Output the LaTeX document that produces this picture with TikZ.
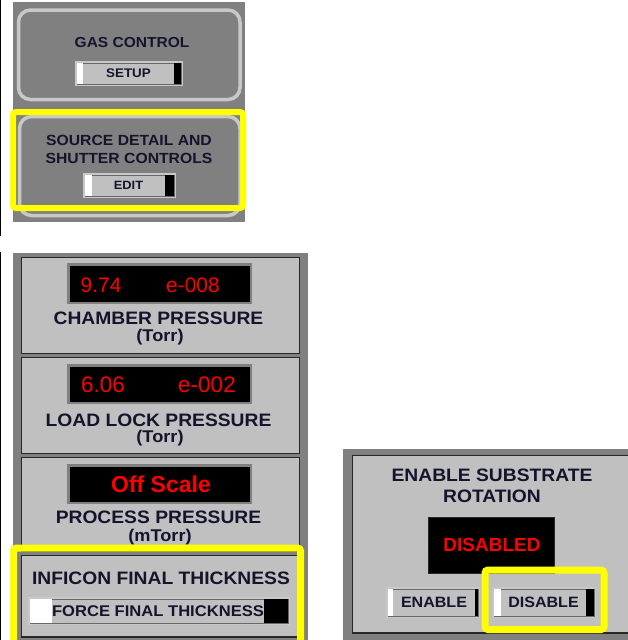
\documentclass[tikz,border=0pt]{standalone}
\usepackage{fontspec}
\setmainfont{Liberation Sans}
\newfontfamily\guifont{Liberation Sans}[FakeStretch=1.07]
\usepackage{xcolor}
\usepackage{tikz}
\usetikzlibrary{positioning}
\definecolor{GUIDark}{RGB}{128, 128, 128}
\definecolor{GUILight}{RGB}{192, 192, 192}
\definecolor{GUIRim}{RGB}{200, 200, 200}
\definecolor{GUIEdge}{RGB}{40, 40, 40}
\definecolor{GUIYellow}{RGB}{255, 255, 0}
\definecolor{GUIRed}{RGB}{255, 0, 0}
\definecolor{GUIText}{RGB}{20, 20, 45}

\tikzset{
  guitext/.style={text=GUIText, inner sep=0pt, align=center},
  readout/.style={text=GUIRed, inner sep=0pt},
  hilite/.style={draw=GUIYellow, rounded corners=3pt},
  panelbox/.style={draw=GUIEdge, fill=GUILight, line width=1pt}
}

% name, x1, y1, x2, y2, white width, black width, font size, text
\newcommand{\guibutton}[9]{%
  \fill[GUIRim] (#2,#3) rectangle (#4,#5);
  \filldraw[fill=GUILight, draw=GUIEdge!70, line width=0.6pt] (#2+2,#3+2) rectangle (#4-2,#5-2);
  \fill[white] (#2+2.3,#3+2.3) rectangle (#2+2+#6,#5-2.3);
  \fill[black] (#4-2-#7,#3+2.3) rectangle (#4-2.3,#5-2.3);
  \node[guitext, font=\guifont\bfseries\fontsize{#8}{#8}\selectfont] (#1)
    at ({(#2+#4+#6-#7)/2},{(#3+#5)/2}) {#9};
}

\begin{document}
\begin{tikzpicture}[x=1pt, y=-1pt]
  \useasboundingbox (0,0) rectangle (628,640);
  \clip (0,0) rectangle (628,640);
  \fill[white] (0,0) rectangle (628,640);
  \draw[black, line width=1pt] (0.5,0) -- (0.5,236);
  \draw[black, line width=1pt] (0.5,252) -- (0.5,640);

  % gas control and source detail
  \fill[GUIDark] (13,2) rectangle (245,222);
  \draw[GUIRim, line width=3.5pt, rounded corners=12pt] (18.5,10) rectangle (240,99.5);
  \draw[GUIRim, line width=3.5pt, rounded corners=12pt] (19.5,116.5) rectangle (240,215.5);
  \node[guitext, font=\guifont\bfseries\fontsize{14.5}{15}\selectfont] (gasTitle) at (132,43) {GAS CONTROL};
  \guibutton{setupBtn}{75}{61}{183}{86}{6}{7}{12.5}{SETUP}
  \node[guitext, font=\guifont\bfseries\fontsize{14.7}{18}\selectfont] (sourceTitle) at (129,149)
    {SOURCE DETAIL AND\\SHUTTER CONTROLS};
  \guibutton{editBtn}{83}{173}{176}{198}{7}{9}{12}{EDIT}
  \draw[hilite, line width=6pt] (13,112) rectangle (243,208);

  % pressure readouts
  \fill[GUIDark] (13,253) rectangle (308,640);
  \draw[panelbox] (21.5,257.5) rectangle (299.5,353);
  \draw[panelbox] (21.5,357.5) rectangle (299.5,453);
  \draw[panelbox] (21.5,457.5) rectangle (299.5,551);
  \draw[panelbox, line width=1.5pt] (21.5,555.5) rectangle (299.5,637);

  \fill[GUIDark] (67,263) rectangle (252,304);
  \fill[black] (69.5,265.5) rectangle (249.5,301.5);
  \node[readout, font=\fontsize{21}{21}\selectfont] (chamberVal) at (101,285) {9.74};
  \node[readout, font=\fontsize{21}{21}\selectfont] (chamberExp) at (193,285) {e-008};
  \node[guitext, font=\guifont\bfseries\fontsize{18}{18}\selectfont] (chamberTitle) at (158.5,318) {CHAMBER PRESSURE};
  \node[guitext, font=\guifont\bfseries\fontsize{17}{17}\selectfont] (chamberUnit) at (160,337) {(Torr)};

  \fill[GUIDark] (67,364) rectangle (252,404);
  \fill[black] (69.5,366.5) rectangle (249.5,401.5);
  \node[readout, font=\fontsize{22.5}{22.5}\selectfont] (loadVal) at (103,385) {6.06};
  \node[readout, font=\fontsize{22.5}{22.5}\selectfont] (loadExp) at (207,385) {e-002};
  \node[guitext, font=\guifont\bfseries\fontsize{18}{18}\selectfont] (loadTitle) at (158.5,420) {LOAD LOCK PRESSURE};
  \node[guitext, font=\guifont\bfseries\fontsize{17}{17}\selectfont] (loadUnit) at (160,438.5) {(Torr)};

  \fill[GUIDark] (67,464) rectangle (252,504);
  \fill[black] (69.5,466.5) rectangle (249.5,501.5);
  \node[readout, font=\bfseries\fontsize{23}{23}\selectfont] (processVal) at (161,484) {Off Scale};
  \node[guitext, font=\guifont\bfseries\fontsize{18}{18}\selectfont] (processTitle) at (158.5,517) {PROCESS PRESSURE};
  \node[guitext, font=\guifont\bfseries\fontsize{17}{17}\selectfont] (processUnit) at (160,537.5) {(mTorr)};

  \node[guitext, font=\guifont\bfseries\fontsize{18}{18}\selectfont] (inficonTitle) at (161,578) {INFICON FINAL THICKNESS};
  \guibutton{forceBtn}{28}{597}{290}{625}{22}{24}{15.5}{FORCE FINAL THICKNESS}
  \draw[hilite, line width=7pt] (13.5,548) rectangle (300.5,660);

  % substrate rotation
  \fill[GUIDark] (343,449) rectangle (628,640);
  \draw[panelbox, line width=1.5pt] (352.5,455.5) rectangle (640,633);
  \node[guitext, font=\guifont\bfseries\fontsize{18}{21.5}\selectfont] (rotationTitle) at (492,486)
    {ENABLE SUBSTRATE\\ROTATION};
  \filldraw[fill=black, draw=GUIEdge] (428,517) rectangle (554,573);
  \node[readout, font=\bfseries\fontsize{19}{19}\selectfont] (rotationState) at (492,545) {DISABLED};
  \guibutton{enableBtn}{386}{587}{480}{618}{5}{3}{15}{ENABLE}
  \guibutton{disableBtn}{492}{587}{596}{618}{7}{8}{15}{DISABLE}
  \draw[hilite, line width=7pt] (485,570) rectangle (604,629.5);
\end{tikzpicture}
\end{document}
